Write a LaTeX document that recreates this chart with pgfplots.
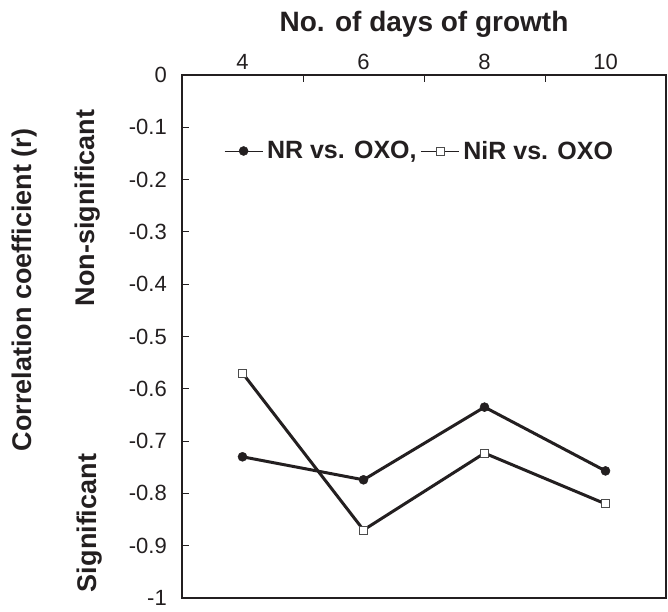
\documentclass[border=0pt]{standalone}
\usepackage{fontspec}
\setmainfont{Liberation Sans}
\usepackage{pgfplots}
\pgfplotsset{compat=1.18}
\definecolor{ink}{HTML}{231F20}
\begin{document}
\begin{tikzpicture}
\useasboundingbox (-182pt,-13pt) rectangle (486pt,598pt);
\begin{axis}[
  at={(0,0)}, anchor=south west,
  scale only axis, width=484pt, height=523pt,
  xmin=-0.5, xmax=3.5, ymin=-1, ymax=0,
  xtick={0.5,1.5,2.5}, xticklabels={},
  extra x ticks={0,1,2,3}, extra x tick labels={4,6,8,10},
  extra x tick style={major tick length=0pt},
  ytick={-1,-0.9,-0.8,-0.7,-0.6,-0.5,-0.4,-0.3,-0.2,-0.1,0},
  yticklabels={-1,-0.9,-0.8,-0.7,-0.6,-0.5,-0.4,-0.3,-0.2,-0.1,0},
  xtick pos=upper, xticklabel pos=upper, ytick pos=lower,
  tick align=inside, major tick length=7pt,
  tick style={line width=0.9pt, color=ink},
  axis line style={line width=1.3pt, color=ink},
  tick label style={font=\fontsize{22}{26}\selectfont, text=ink},
  xticklabel style={anchor=base, yshift=5pt},
  yticklabel style={anchor=east, inner sep=0pt, xshift=-15pt},
  xlabel={No. of days of growth},
  xlabel style={font=\bfseries\fontsize{28}{32}\selectfont, text=ink, at={(axis description cs:0.5,1)}, anchor=base, yshift=43pt},
  legend columns=2,
  legend style={draw=none, fill=none, at={(axis description cs:0.0806,0.8547)}, anchor=west,
    font=\bfseries\fontsize{25}{28}\selectfont, text=ink,
    nodes={inner ysep=2pt, inner xsep=4pt},
    /tikz/every even column/.append style={column sep=0pt}},
  legend image code/.code={\draw[mark repeat=2,mark phase=2,#1,line width=0.8pt] plot coordinates {(0pt,0pt) (19pt,0pt) (38pt,0pt)};},
]
\addplot[color=ink, line width=3pt, mark=*, mark size=4.5pt, mark options={solid, fill=ink, line width=0.5pt}]
  coordinates {(0,-0.730) (1,-0.774) (2,-0.635) (3,-0.757)};
\addlegendentry{NR vs. OXO,}
\addplot[color=ink, line width=3pt, mark=square*, mark size=4pt, mark options={solid, fill=white, draw=gray!60!black, line width=0.9pt}]
  coordinates {(0,-0.570) (1,-0.870) (2,-0.723) (3,-0.820)};
\addlegendentry{NiR vs. OXO}
\end{axis}
\node[rotate=90, font=\bfseries\fontsize{27}{30}\selectfont, text=ink] at (-157pt,308pt) {Correlation coefficient (r)};
\node[rotate=90, font=\bfseries\fontsize{27}{30}\selectfont, text=ink] at (-94pt,390pt) {Non-significant};
\node[rotate=90, font=\bfseries\fontsize{27}{30}\selectfont, text=ink] at (-92pt,75pt) {Significant};
\end{tikzpicture}
\end{document}
